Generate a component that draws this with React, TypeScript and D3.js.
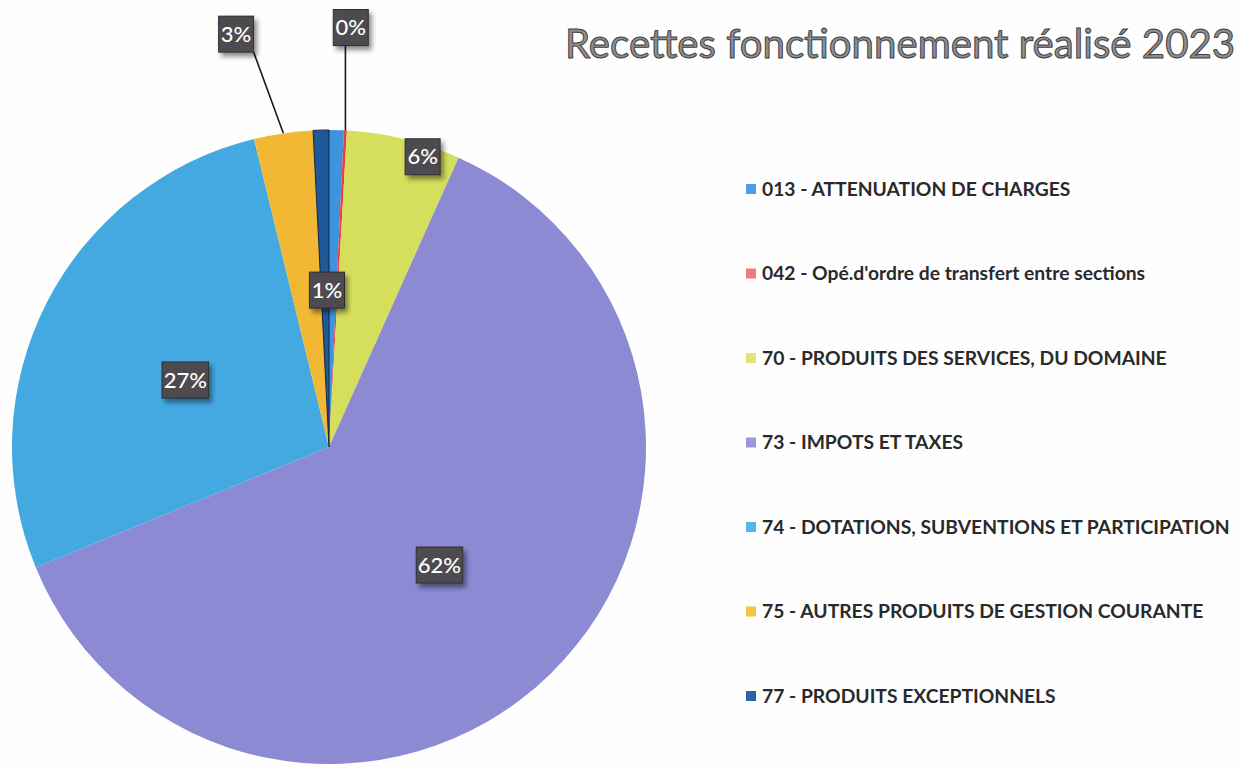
import React from "react";
import * as d3 from "d3";

// ---- data ----
const categories: string[] = [
  "013 - ATTENUATION DE CHARGES",
  "042 - Opé.d'ordre de transfert entre sections",
  "70 - PRODUITS DES SERVICES, DU DOMAINE",
  "73 - IMPOTS ET TAXES",
  "74 - DOTATIONS, SUBVENTIONS ET PARTICIPATION",
  "75 - AUTRES PRODUITS DE GESTION COURANTE",
  "77 - PRODUITS EXCEPTIONNELS",
];
const shares: number[] = [0.75, 0.15, 5.8, 62.1, 27.4, 3.0, 0.8];
const colors: string[] = ["#3d93dc", "#ee3b3b", "#d5df5c", "#8b8ad3", "#45a9e1", "#f3b833", "#1e5a9a"];
const legendColors: string[] = ["#4a9fe6", "#f07878", "#e3e377", "#9a98d6", "#5ab2e8", "#f1c64a", "#2a64a5"];
const title = "Recettes fonctionnement réalisé 2023";

// label placement (style): mode, radius factor, angular offset (deg)
const labelPlacement: { show: boolean; mode: "inside" | "outside"; rf: number; dAng: number }[] = [
  { show: false, mode: "inside", rf: 0.5, dAng: 0 },
  { show: true, mode: "outside", rf: 1.325, dAng: 0 },
  { show: true, mode: "inside", rf: 0.962, dAng: 4.2 },
  { show: true, mode: "inside", rf: 0.51, dAng: 1 },
  { show: true, mode: "inside", rf: 0.5, dAng: -2 },
  { show: true, mode: "outside", rf: 1.335, dAng: -4.4 },
  { show: true, mode: "inside", rf: 0.495, dAng: 0.7 },
];

const W = 1239;
const H = 771;
const CX = 329;
const CY = 447;
const R = 317;

export default function App() {
  const pie = d3.pie<number>().sort(null).value((d) => d).startAngle(0).endAngle(2 * Math.PI);
  const arcs = pie(shares);
  const arcGen = d3.arc<d3.PieArcDatum<number>>().innerRadius(0).outerRadius(R);
  const total = d3.sum(shares);
  const fmt = (v: number) => `${Math.round((v / total) * 100)}%`;

  const legendY = d3.scalePoint<string>().domain(categories).range([189, 696]);

  const polar = (ang: number, r: number): [number, number] => [Math.sin(ang) * r, -Math.cos(ang) * r];
  const boxW = (txt: string) => txt.length * 11.5 + 12;
  const boxH = 36;

  return (
    <svg width={W} height={H} style={{ position: "fixed", left: 0, top: 0, background: "#fff" }}>
      <defs>
        <filter id="lblshadow" x="-30%" y="-30%" width="170%" height="170%">
          <feDropShadow dx="3" dy="4" stdDeviation="2.5" floodColor="#000" floodOpacity="0.45" />
        </filter>
      </defs>
      <rect x={0} y={0} width={W} height={H} fill="#fefefe" />
      <text
        x={565}
        y={58}
        fontFamily="Lato, 'Open Sans', sans-serif"
        fontSize={40.2}
        fontWeight={400}
        fill="#8f8f8f"
        stroke="#404040"
        strokeWidth={1}
      >
        {title}
      </text>
      <g transform={`translate(${CX},${CY})`}>
        {arcs.map((a, i) => (
          <path
            key={i}
            d={arcGen(a) || ""}
            fill={colors[i]}
            stroke={i === 6 ? "#1a2238" : "none"}
            strokeWidth={i === 6 ? 1 : 0}
          />
        ))}
        {arcs.map((a, i) => {
          const p = labelPlacement[i];
          if (!p.show || p.mode !== "outside") return null;
          const mid = (a.startAngle + a.endAngle) / 2;
          const [ex, ey] = polar(mid, R);
          const [lx, ly] = polar(mid + (p.dAng * Math.PI) / 180, R * p.rf);
          const txt = fmt(shares[i]);
          const bw = boxW(txt);
          const tx = Math.max(lx - bw / 2, Math.min(ex, lx + bw / 2));
          const ty = ly + boxH / 2;
          return <line key={"l" + i} x1={ex} y1={ey} x2={tx} y2={ty} stroke="#1a1a1a" strokeWidth={1.6} />;
        })}
        {arcs.map((a, i) => {
          const p = labelPlacement[i];
          if (!p.show) return null;
          const mid = (a.startAngle + a.endAngle) / 2;
          const [lx, ly] = polar(mid + (p.dAng * Math.PI) / 180, R * p.rf);
          const txt = fmt(shares[i]);
          const bw = boxW(txt);
          return (
            <g key={"t" + i} transform={`translate(${lx},${ly})`}>
              <rect
                x={-bw / 2}
                y={-boxH / 2}
                width={bw}
                height={boxH}
                fill="#4d4b4f"
                stroke="#2e2e30"
                strokeWidth={1}
                filter="url(#lblshadow)"
              />
              <text
                x={0}
                y={7.5}
                textAnchor="middle"
                fontFamily="Lato, 'Open Sans', sans-serif"
                fontSize={22}
                fontWeight={500}
                fill="#ffffff"
              >
                {txt}
              </text>
            </g>
          );
        })}
      </g>
      <g>
        {categories.map((c, i) => {
          const y = legendY(c) as number;
          return (
            <g key={c}>
              <rect x={746} y={y - 5} width={10} height={10} fill={legendColors[i]} />
              <text
                x={762}
                y={y + 6.5}
                fontFamily="Lato, 'Open Sans', sans-serif"
                fontSize={19.3}
                fontWeight={700}
                fill="#2a2a2a"
              >
                {c}
              </text>
            </g>
          );
        })}
      </g>
    </svg>
  );
}
